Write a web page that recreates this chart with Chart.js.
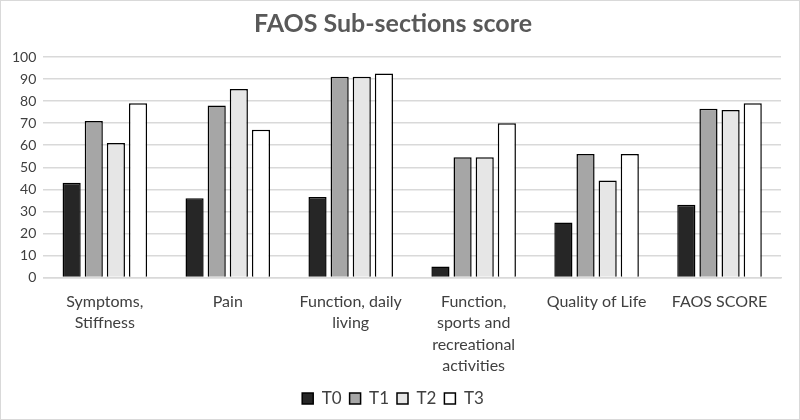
<!DOCTYPE html>
<html>
<head>
<meta charset="utf-8">
<script src="https://cdn.jsdelivr.net/npm/chart.js@4"></script>
<style>
  html, body { margin: 0; padding: 0; background: #fff; }
  #wrap { width: 798px; height: 418px; border: 1px solid #d9d9d9; position: relative; }
</style>
</head>
<body>
<div id="wrap"><canvas id="chart" width="798" height="418"></canvas></div>
<script>
const categories = [
  ["Symptoms,", "Stiffness"],
  "Pain",
  ["Function, daily", "living"],
  ["Function,", "sports and", "recreational", "activities"],
  "Quality of Life",
  "FAOS SCORE"
];
const t0 = [43, 36, 36.5, 5, 25, 33];
const t1 = [71, 78, 91, 54.5, 56, 76.5];
const t2 = [61, 85.5, 91, 54.5, 44, 76];
const t3 = [79, 67, 92.5, 70, 56, 79];
const yTicks = [0, 10, 20, 30, 40, 50, 60, 70, 80, 90, 100];

const fontFamily = "Lato, 'Open Sans', sans-serif";

function series(label, data, color) {
  return {
    label: label,
    data: data,
    backgroundColor: color,
    borderColor: "#000000",
    borderWidth: 1.5,
    barPercentage: 0.82,
    categoryPercentage: 0.72
  };
}

const ctx = document.getElementById("chart").getContext("2d");
new Chart(ctx, {
  type: "bar",
  data: {
    labels: categories,
    datasets: [
      series("T0", t0, "#262626"),
      series("T1", t1, "#a6a6a6"),
      series("T2", t2, "#e6e6e6"),
      series("T3", t3, "#ffffff")
    ]
  },
  options: {
    responsive: false,
    animation: false,
    layout: { padding: { left: 4, right: 18, top: 0, bottom: 2 } },
    scales: {
      y: {
        min: 0,
        max: 100,
        afterBuildTicks: axis => { axis.ticks = yTicks.map(v => ({ value: v })); },
        ticks: { color: "#404040", font: { family: fontFamily, size: 14 }, padding: 7, autoSkip: false },
        grid: { color: "#d9d9d9", lineWidth: 1.5, drawTicks: false },
        border: { display: false }
      },
      x: {
        ticks: { color: "#404040", font: { family: fontFamily, size: 16, lineHeight: 1.35 }, maxRotation: 0, padding: 5 },
        grid: { display: false },
        border: { color: "#d9d9d9", width: 1.5 }
      }
    },
    plugins: {
      title: {
        display: true,
        text: "FAOS Sub-sections score",
        color: "#595959",
        font: { family: fontFamily, size: 25, weight: "bold" },
        padding: { top: 8, bottom: 18 }
      },
      legend: {
        position: "bottom",
        labels: {
          color: "#404040",
          font: { family: fontFamily, size: 17 },
          boxWidth: 11,
          boxHeight: 11,
          padding: 8
        }
      },
      tooltip: { enabled: false }
    }
  }
});
</script>
</body>
</html>
